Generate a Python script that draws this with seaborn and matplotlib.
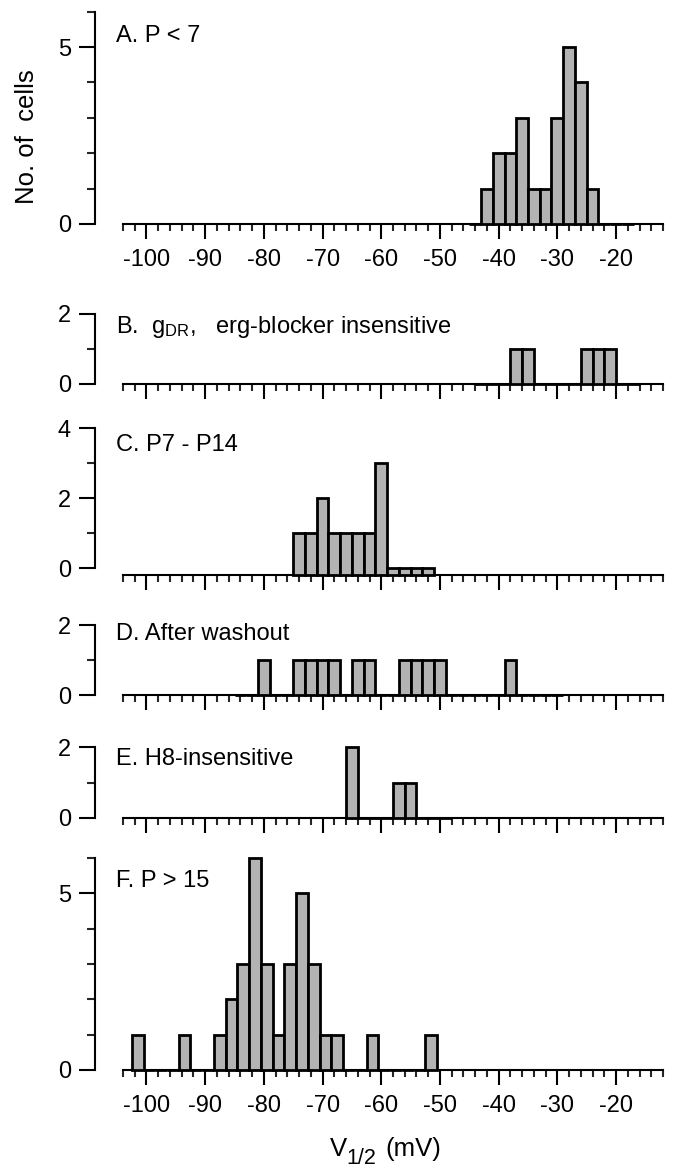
import numpy as np
import pandas as pd
import seaborn as sns
import matplotlib
matplotlib.use("Agg")
import matplotlib.pyplot as plt
from matplotlib.ticker import MultipleLocator, FixedLocator

# ---------------- data ----------------
BIN_WIDTH = 2.0  # mV

A_title = "A. P < 7"
A_start = -45
A_counts = [0, 1, 2, 2, 3, 1, 1, 3, 5, 4, 1, 0, 0, 0]

B_title = r"B.  g$_{\mathregular{DR}}$,   erg-blocker insensitive"
B_start = -44
B_counts = [0, 0, 0, 1, 1, 0, 0, 0, 0, 1, 1, 1, 0, 0]

C_title = "C. P7 - P14"
C_start = -75
C_counts = [1, 1, 2, 1, 1, 1, 1, 3, 0, 0, 0, 0]

D_title = "D. After washout"
D_start = -85
D_counts = [0, 0, 1, 0, 0, 1, 1, 1, 1, 0, 1, 1, 0, 0, 1, 1, 1, 1,
            0, 0, 0, 0, 0, 1, 0, 0, 0, 0]

E_title = "E. H8-insensitive"
E_start = -66
E_counts = [2, 0, 0, 0, 1, 1, 0, 0, 0]

F_title = "F. P > 15"
F_start = -102.5
F_counts = [1, 0, 0, 0, 1, 0, 0, 1, 2, 3, 6, 3, 1, 3, 5, 3, 1, 1,
            0, 0, 1, 0, 0, 0, 0, 1]

y_tops = [6, 2, 4, 2, 2, 6]
y_major = [[0, 5], [0, 2], [0, 2, 4], [0, 2], [0, 2], [0, 5]]
x_range = (-104, -12)
x_major_step = 10
x_minor_step = 2
y_label = "No. of  cells"
x_label_parts = ["V", "1/2", "(mV)"]

# ---------------- layout (pixels) ----------------
W, H = 676, 1170
AX_LEFT, AX_RIGHT = 123, 663
zero_px = [224, 384, 568.3, 695, 818, 1070]
top_px = [11.7, 314, 428.3, 625, 747, 858]
title_base_px = [42, 333, 451, 640, 765, 887]
title_x_px = 116
show_xlabels = [True, False, False, False, False, True]
bottom_offset_pt = [0, 0, 5, 0, 0, 0]

BAR = "#b3b3b3"

sns.set_style("ticks")
plt.rcParams["font.family"] = ["Liberation Sans", "DejaVu Sans"]
plt.rcParams["axes.unicode_minus"] = False
plt.rcParams["mathtext.fontset"] = "custom"
plt.rcParams["mathtext.rm"] = "Liberation Sans"
plt.rcParams["mathtext.it"] = "Liberation Sans:italic"
plt.rcParams["mathtext.default"] = "regular"
plt.rcParams["text.color"] = "black"

fig = plt.figure(figsize=(W / 100, H / 100), dpi=100)

titles = [A_title, B_title, C_title, D_title, E_title, F_title]
starts = [A_start, B_start, C_start, D_start, E_start, F_start]
counts_all = [A_counts, B_counts, C_counts, D_counts, E_counts, F_counts]

for i in range(6):
    counts = np.array(counts_all[i], dtype=float)
    n_bins = len(counts)
    lo = starts[i]
    hi = starts[i] + BIN_WIDTH * n_bins
    centers = lo + BIN_WIDTH * (np.arange(n_bins) + 0.5)
    df = pd.DataFrame({"v": centers, "n": counts})

    h_px = zero_px[i] - top_px[i]
    ax = fig.add_axes([AX_LEFT / W, 1 - zero_px[i] / H,
                       (AX_RIGHT - AX_LEFT) / W, h_px / H])
    sns.histplot(data=df, x="v", weights="n", binwidth=BIN_WIDTH,
                 binrange=(lo, hi), ax=ax,
                 color=BAR, edgecolor="black", linewidth=2.0, alpha=1.0)
    ax.set_xlim(*x_range)
    ax.set_ylim(0, y_tops[i])

    off = bottom_offset_pt[i]
    if off:
        off_units = (off / 72 * 100) * y_tops[i] / h_px
        for p in ax.patches:
            p.set_y(-off_units)
            p.set_height(p.get_height() + off_units)
        ax.spines["bottom"].set_position(("outward", off))
    for p in ax.patches:
        p.set_clip_on(False)
        p.set_zorder(3)

    ax.xaxis.set_major_locator(MultipleLocator(x_major_step))
    ax.xaxis.set_minor_locator(MultipleLocator(x_minor_step))
    ax.yaxis.set_major_locator(FixedLocator(y_major[i]))
    ax.yaxis.set_minor_locator(MultipleLocator(1))

    ax.spines["top"].set_visible(False)
    ax.spines["right"].set_visible(False)
    ax.spines["left"].set_position(("outward", 20))
    for s in ("left", "bottom"):
        ax.spines[s].set_linewidth(1.5)
        ax.spines[s].set_color("black")

    ax.tick_params(axis="x", which="major", length=11, width=1.5,
                   direction="out", labelsize=17, pad=7, colors="black")
    ax.tick_params(axis="x", which="minor", length=5, width=1.5,
                   direction="out")
    ax.tick_params(axis="y", which="major", length=11.5, width=1.5,
                   direction="out", labelsize=17, pad=6, colors="black")
    ax.tick_params(axis="y", which="minor", length=5.5, width=1.5,
                   direction="out")
    ax.tick_params(axis="x", labelbottom=show_xlabels[i])
    ax.set_xlabel("")
    ax.set_ylabel("")
    ax.set_facecolor("none")

    fig.text(title_x_px / W, 1 - title_base_px[i] / H, titles[i],
             fontsize=17, ha="left", va="baseline", color="black")

fig.text(27 / W, 1 - 136.5 / H, y_label, rotation=90, fontsize=18.5,
         ha="center", va="center", color="black")

# x-axis label: V with a large subscript 1/2, then (mV)
fig.text(330 / W, 1 - 1156 / H, x_label_parts[0], fontsize=18.5,
         ha="left", va="baseline", color="black")
fig.text(346 / W, 1 - 1164 / H, x_label_parts[1], fontsize=15.5,
         ha="left", va="baseline", color="black")
fig.text(385 / W, 1 - 1156 / H, x_label_parts[2], fontsize=18.5,
         ha="left", va="baseline", color="black")

fig.savefig("out.png", dpi=100, facecolor="white")
